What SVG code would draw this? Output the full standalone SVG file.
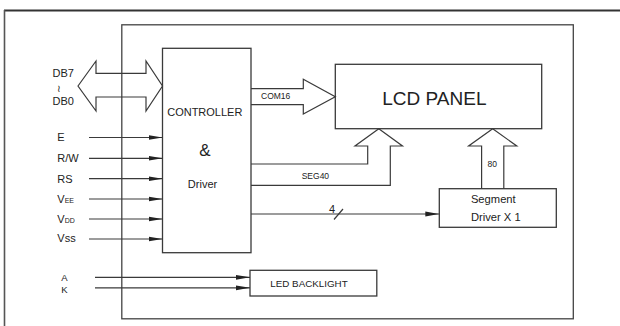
<svg xmlns="http://www.w3.org/2000/svg" width="620" height="326" viewBox="0 0 620 326">
<defs>
<style>
.ln{fill:none;stroke:#3a3a3a;stroke-width:1.2}
.bx{fill:#fff;stroke:#3a3a3a;stroke-width:1.3}
.t{font-family:"Liberation Sans",Arial,sans-serif;fill:#222}
</style>
<marker id="ah" viewBox="0 0 14 6" refX="14" refY="3" markerWidth="14" markerHeight="6" markerUnits="userSpaceOnUse" orient="auto">
<path d="M0,0.6 L14,3 L0,5.4 Z" fill="#222"/>
</marker>
</defs>
<rect width="620" height="326" fill="#fff"/>
<g id="frame">
<line x1="4" y1="10.5" x2="620" y2="10.5" stroke="#333" stroke-width="2"/>
<line x1="4.5" y1="10" x2="4.5" y2="326" stroke="#555" stroke-width="1.6"/>
<rect x="121.8" y="24.8" width="451.5" height="294" fill="none" stroke="#444" stroke-width="1.3"/>
</g>
<g id="controller">
<rect class="bx" x="162.5" y="48.3" width="88.5" height="204.4"/>
<text class="t" x="204.8" y="116" font-size="11" text-anchor="middle">CONTROLLER</text>
<text class="t" x="204.8" y="156" font-size="17" text-anchor="middle">&amp;</text>
<text class="t" x="202.5" y="188" font-size="11" text-anchor="middle">Driver</text>
</g>
<g id="lcd">
<rect class="bx" x="335.3" y="64.3" width="206.4" height="64.4"/>
<text class="t" x="434.4" y="105" font-size="19" text-anchor="middle">LCD PANEL</text>
</g>
<g id="segdrv">
<rect class="bx" x="439.3" y="188.7" width="117" height="38.6"/>
<text class="t" x="493.3" y="202.5" font-size="11.2" text-anchor="middle">Segment</text>
<text class="t" x="495.8" y="221" font-size="11.2" text-anchor="middle">Driver X 1</text>
</g>
<g id="backlight">
<rect class="bx" x="250" y="270.3" width="126.8" height="25.7"/>
<text class="t" x="309" y="286.5" font-size="9.8" text-anchor="middle">LED BACKLIGHT</text>
</g>
<g id="labels">
<text class="t" x="52.6" y="77.3" font-size="11">DB7</text>
<text class="t" x="56.5" y="92" font-size="10" font-family="DejaVu Sans">≀</text>
<text class="t" x="52.6" y="105" font-size="11">DB0</text>
<text class="t" x="57.3" y="141" font-size="11">E</text>
<text class="t" x="57.3" y="162" font-size="11">R/W</text>
<text class="t" x="57.3" y="182.7" font-size="11">RS</text>
<text class="t" x="57.3" y="202.5" font-size="11">V<tspan font-size="7">EE</tspan></text>
<text class="t" x="57.3" y="222.5" font-size="11">V<tspan font-size="7">DD</tspan></text>
<text class="t" x="57.3" y="242" font-size="11">Vss</text>
<text class="t" x="64.5" y="280.5" font-size="9.5" text-anchor="middle">A</text>
<text class="t" x="64.5" y="293" font-size="9.5" text-anchor="middle">K</text>
<text class="t" x="261" y="99" font-size="8.5">COM16</text>
<text class="t" x="301.7" y="178.5" font-size="8.5">SEG40</text>
<text class="t" x="487.5" y="167" font-size="8.5">80</text>
<text class="t" x="329" y="213" font-size="11">4</text>
</g>
<g id="connectors">
<polygon class="ln" points="78,86 96,61 96,73.3 146,73.3 146,61 162.5,86 146,111 146,97 96,97 96,111"/>
<polyline class="ln" points="251,88.7 303.3,88.7 303.3,79.3 335.3,96.7 303.3,114 303.3,104.7 251,104.7"/>
<polyline class="ln" points="251,164 367.7,164 367.7,146 355,146 378.8,128.7 402.5,146 390.3,146 390.3,185.3 251,185.3"/>
<polyline class="ln" points="481.6,188.7 481.6,146 468.6,146 492.7,128.7 516.8,146 503.8,146 503.8,188.7"/>
<line class="ln" x1="251" y1="214" x2="439.3" y2="214" marker-end="url(#ah)"/>
<line class="ln" x1="334" y1="219.5" x2="343" y2="209" stroke-width="1"/>
<line class="ln" x1="89" y1="137.5" x2="162.5" y2="137.5" marker-end="url(#ah)"/>
<line class="ln" x1="89" y1="158.3" x2="162.5" y2="158.3" marker-end="url(#ah)"/>
<line class="ln" x1="89" y1="178.7" x2="162.5" y2="178.7" marker-end="url(#ah)"/>
<line class="ln" x1="89" y1="199" x2="162.5" y2="199" marker-end="url(#ah)"/>
<line class="ln" x1="89" y1="219" x2="162.5" y2="219" marker-end="url(#ah)"/>
<line class="ln" x1="89" y1="239" x2="162.5" y2="239" marker-end="url(#ah)"/>
<line class="ln" x1="95" y1="277.3" x2="250" y2="277.3" marker-end="url(#ah)"/>
<line class="ln" x1="95" y1="287.8" x2="250" y2="287.8" marker-end="url(#ah)"/>
</g>
</svg>
